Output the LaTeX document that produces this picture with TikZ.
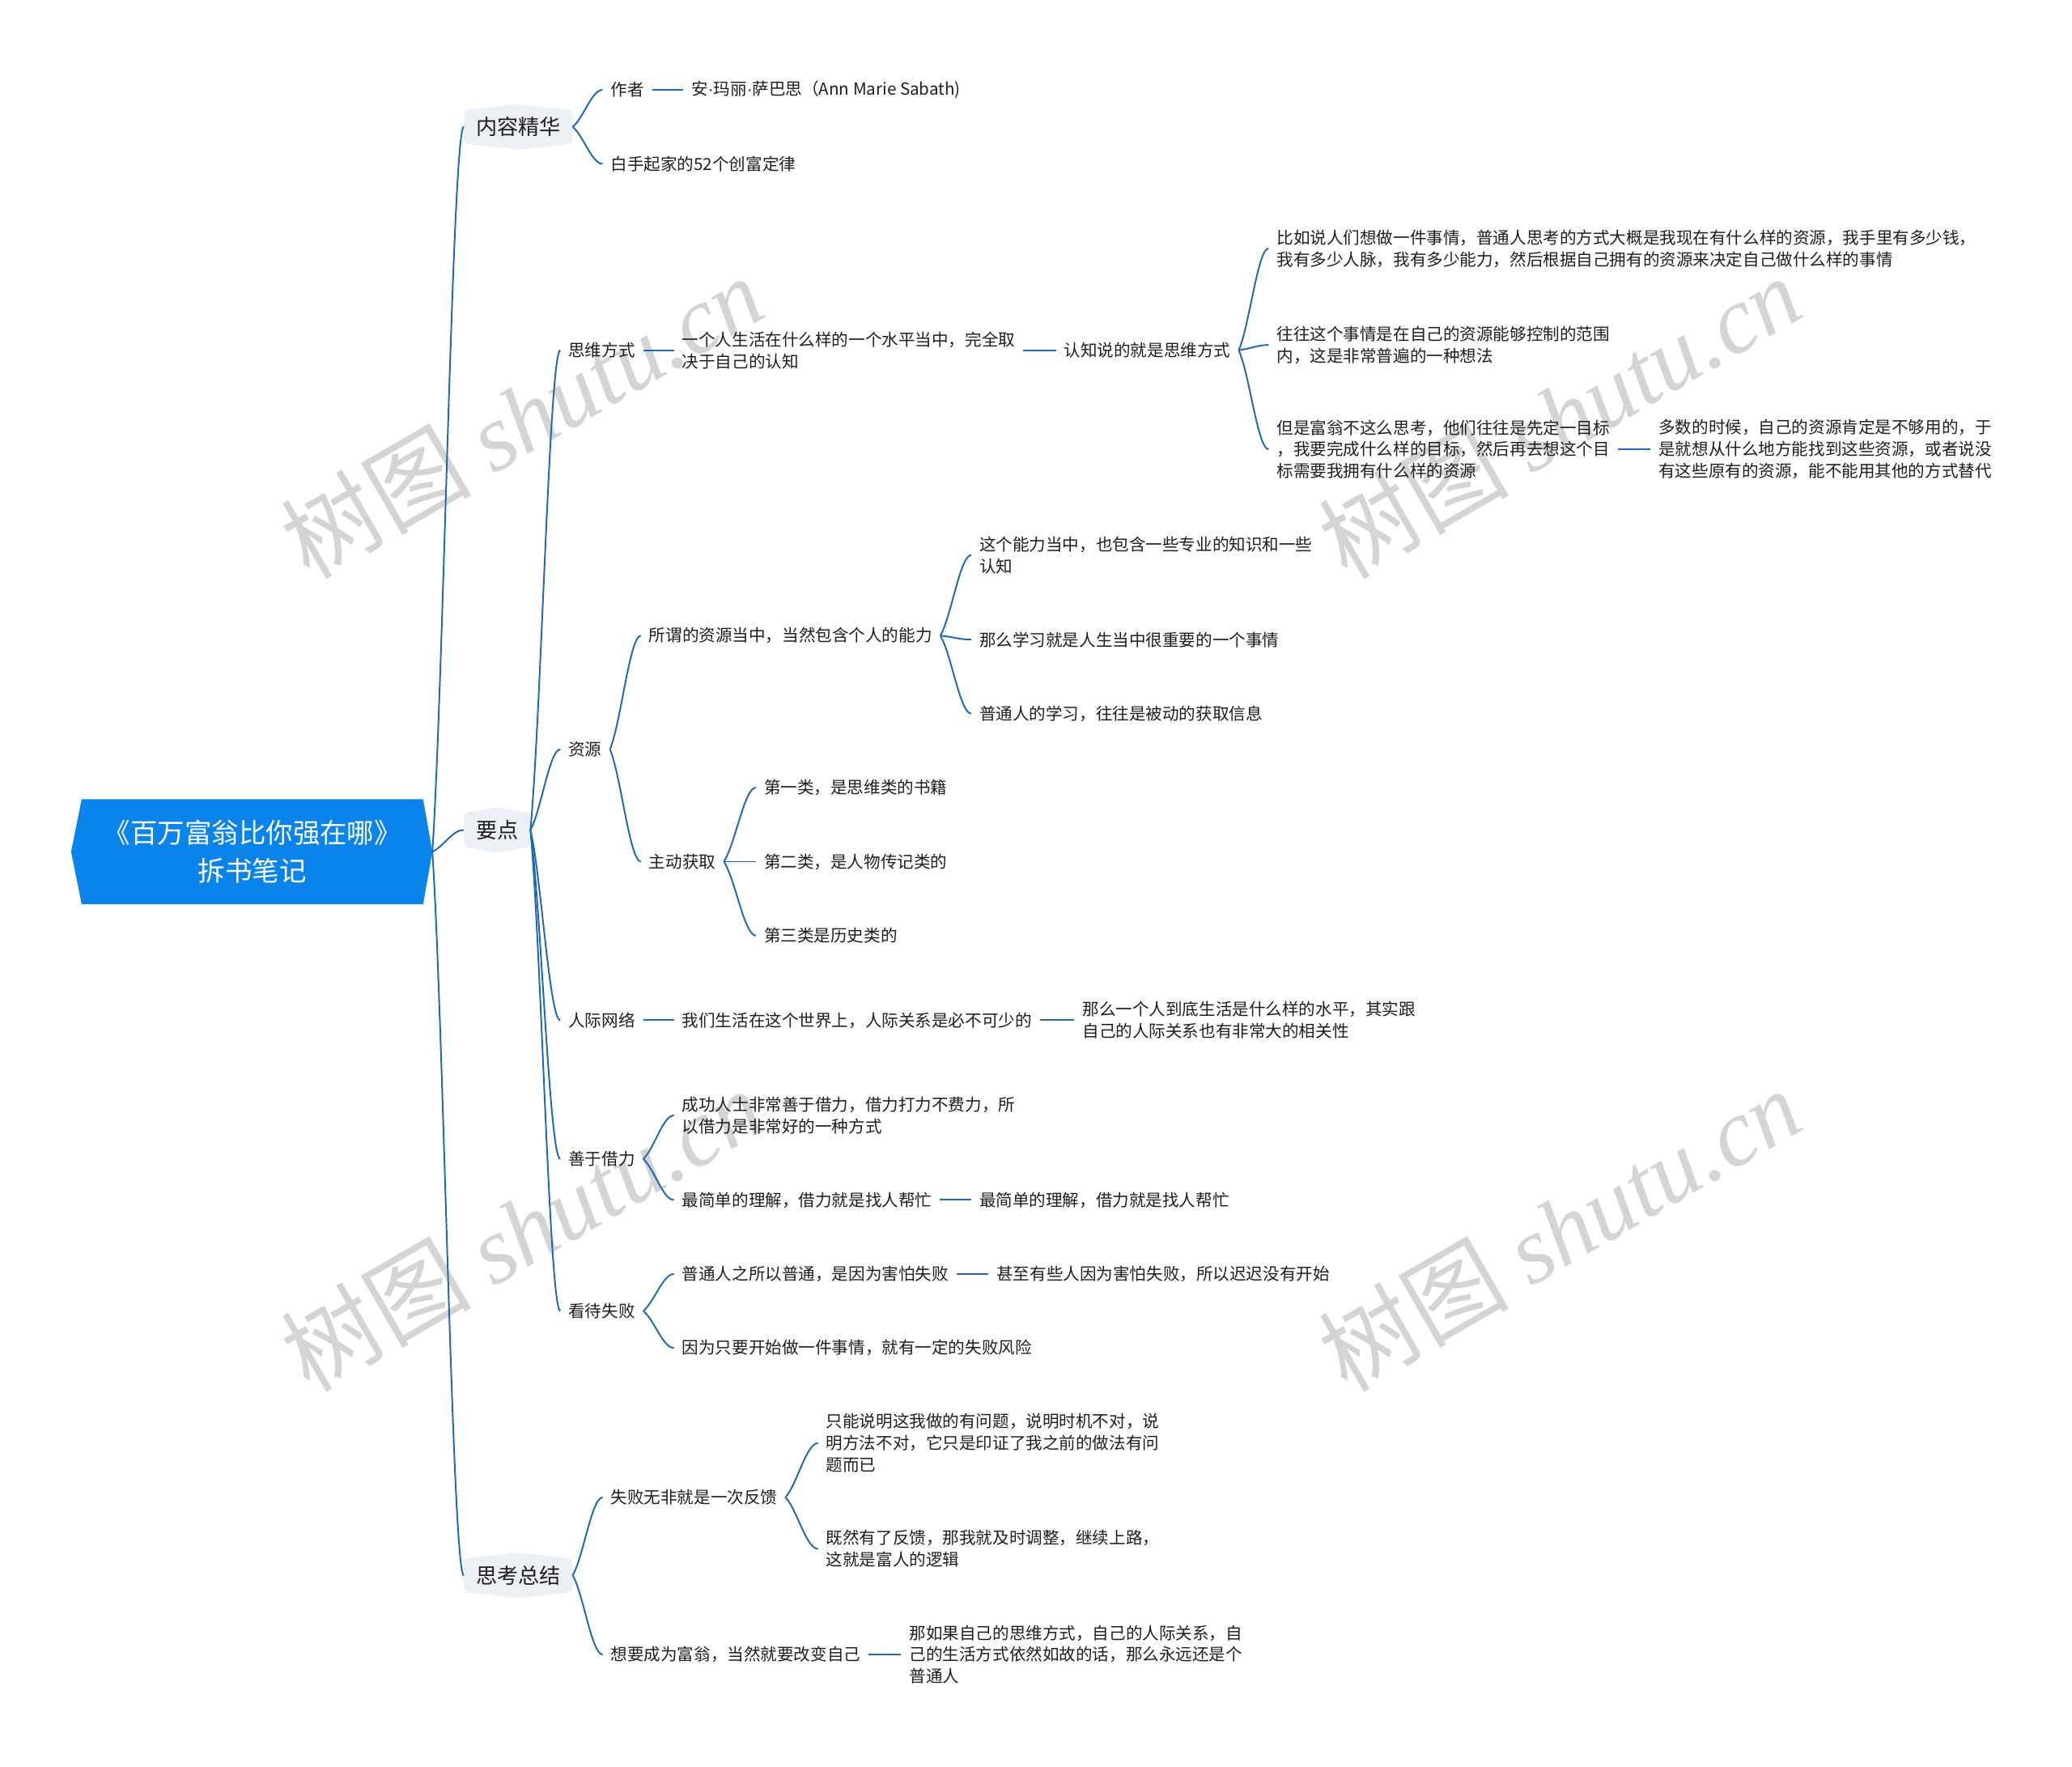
\documentclass[tikz,border=0pt]{standalone}
\usepackage{fontspec}
\setmainfont{Noto Sans CJK SC}
\newfontfamily\wmserif{Liberation Serif}
\newfontfamily\latinsans{Liberation Sans}
\usetikzlibrary{calc,backgrounds}
\definecolor{linkblue}{RGB}{30,104,184}
\definecolor{rootblue}{RGB}{10,132,234}
\definecolor{bubfill}{RGB}{236,240,244}
\definecolor{txt}{RGB}{30,30,30}
\definecolor{wmgray}{RGB}{212,212,212}
\newcommand\mmcurve[2]{\draw[conn] let \p1=(#1), \p2=(#2) in (\p1) .. controls ({\x1+0.36*(\x2-\x1)},{\y1+0.24*(\y2-\y1)}) and ({\x1+0.64*(\x2-\x1)},\y2) .. (\p2);}
\newcommand\mmbubble[1]{\begin{scope}[on background layer]\fill[bubfill,rounded corners=3pt] ([yshift=-4.5pt]#1.north west) -- (#1.north) -- ([yshift=-4.5pt]#1.north east) -- ([yshift=4.5pt]#1.south east) -- (#1.south) -- ([yshift=4.5pt]#1.south west) -- cycle;\end{scope}}
\newcommand\mmdot{{\latinsans ·}}
\begin{document}
\begin{tikzpicture}[x=1pt,y=1pt,
  conn/.style={draw=linkblue,line width=1.2pt},
  leaf/.style={anchor=west,align=left,inner xsep=6pt,inner ysep=2pt,text=txt,font=\fontsize{12.6}{16.5}\selectfont},
  bub/.style={anchor=west,inner xsep=9pt,minimum height=34pt,text=txt,font=\fontsize{16}{20}\selectfont},
  rootnode/.style={align=center,minimum width=258pt,minimum height=79pt,inner sep=0pt,text=white,font=\fontsize{20.5}{29}\selectfont},
  wm/.style={text=wmgray,font=\fontsize{72}{80}\selectfont,rotate=30}
]
\useasboundingbox (0,0) rectangle (1568,-1337);
\begin{scope}[on background layer]
\fill[white] (0,0) rectangle (1568,-1337);
\node[wm] (w1) at (395,-315) {树图 {\wmserif\itshape shutu.cn}};
\node[wm] (w2) at (1180,-315) {树图 {\wmserif\itshape shutu.cn}};
\node[wm] (w3) at (395,-930) {树图 {\wmserif\itshape shutu.cn}};
\node[wm] (w4) at (1180,-930) {树图 {\wmserif\itshape shutu.cn}};
\end{scope}

% root
\node[rootnode] (root) at (191,-644.5) {《百万富翁比你强在哪》\\拆书笔记};
\begin{scope}[on background layer]
\fill[rootblue] ([xshift=-8pt]root.west) -- (root.north west) -- (root.north east) -- ([xshift=7pt]root.east) -- (root.south east) -- (root.south west) -- cycle;
\end{scope}
\coordinate (rootR) at ([xshift=7pt]root.east);

% level 1
\node[bub] (n1) at (351,-96) {内容精华}; \mmbubble{n1}
\node[bub] (n2) at (351,-628) {要点}; \mmbubble{n2}
\node[bub] (n3) at (351,-1192) {思考总结}; \mmbubble{n3}

% 内容精华
\node[leaf] (a1) at (456,-68) {作者};
\node[leaf] (a2) at (517,-68) {安\mmdot 玛丽\mmdot 萨巴思（Ann Marie Sabath)};
\node[leaf] (a3) at (456,-124) {白手起家的52个创富定律};

% 要点
\node[leaf] (b1) at (424,-265) {思维方式};
\node[leaf] (b11) at (510,-265) {一个人生活在什么样的一个水平当中，完全取\\决于自己的认知};
\node[leaf] (b111) at (799,-265) {认知说的就是思维方式};
\node[leaf] (b1111) at (960,-188) {比如说人们想做一件事情，普通人思考的方式大概是我现在有什么样的资源，我手里有多少钱，\\我有多少人脉，我有多少能力，然后根据自己拥有的资源来决定自己做什么样的事情};
\node[leaf] (b1112) at (960,-261) {往往这个事情是在自己的资源能够控制的范围\\内，这是非常普遍的一种想法};
\node[leaf] (b1113) at (960,-340) {但是富翁不这么思考，他们往往是先定一目标\\，我要完成什么样的目标，然后再去想这个目\\标需要我拥有什么样的资源};
\node[leaf] (b11131) at (1249,-340) {多数的时候，自己的资源肯定是不够用的，于\\是就想从什么地方能找到这些资源，或者说没\\有这些原有的资源，能不能用其他的方式替代};

\node[leaf] (b2) at (424,-567) {资源};
\node[leaf] (b21) at (485,-481) {所谓的资源当中，当然包含个人的能力};
\node[leaf] (b211) at (735,-420) {这个能力当中，也包含一些专业的知识和一些\\认知};
\node[leaf] (b212) at (735,-484) {那么学习就是人生当中很重要的一个事情};
\node[leaf] (b213) at (735,-540) {普通人的学习，往往是被动的获取信息};
\node[leaf] (b22) at (485,-652) {主动获取};
\node[leaf] (b221) at (572,-596) {第一类，是思维类的书籍};
\node[leaf] (b222) at (572,-652) {第二类，是人物传记类的};
\node[leaf] (b223) at (572,-708) {第三类是历史类的};

\node[leaf] (b3) at (424,-772) {人际网络};
\node[leaf] (b31) at (510,-772) {我们生活在这个世界上，人际关系是必不可少的};
\node[leaf] (b311) at (813,-772) {那么一个人到底生活是什么样的水平，其实跟\\自己的人际关系也有非常大的相关性};

\node[leaf] (b4) at (424,-877) {善于借力};
\node[leaf] (b41) at (510,-844) {成功人士非常善于借力，借力打力不费力，所\\以借力是非常好的一种方式};
\node[leaf] (b42) at (510,-908) {最简单的理解，借力就是找人帮忙};
\node[leaf] (b421) at (735,-908) {最简单的理解，借力就是找人帮忙};

\node[leaf] (b5) at (424,-992) {看待失败};
\node[leaf] (b51) at (510,-964) {普通人之所以普通，是因为害怕失败};
\node[leaf] (b511) at (748,-964) {甚至有些人因为害怕失败，所以迟迟没有开始};
\node[leaf] (b52) at (510,-1020) {因为只要开始做一件事情，就有一定的失败风险};

% 思考总结
\node[leaf] (c1) at (456,-1133) {失败无非就是一次反馈};
\node[leaf] (c11) at (619,-1092) {只能说明这我做的有问题，说明时机不对，说\\明方法不对，它只是印证了我之前的做法有问\\题而已};
\node[leaf] (c12) at (619,-1172) {既然有了反馈，那我就及时调整，继续上路，\\这就是富人的逻辑};
\node[leaf] (c2) at (456,-1252) {想要成为富翁，当然就要改变自己};
\node[leaf] (c21) at (682,-1252) {那如果自己的思维方式，自己的人际关系，自\\己的生活方式依然如故的话，那么永远还是个\\普通人};

% connectors
\mmcurve{rootR}{n1.west}
\mmcurve{rootR}{n2.west}
\mmcurve{rootR}{n3.west}

\mmcurve{n1.east}{a1.west}
\mmcurve{n1.east}{a3.west}
\draw[conn] (a1.east) -- (a2.west);

\mmcurve{n2.east}{b1.west}
\mmcurve{n2.east}{b2.west}
\mmcurve{n2.east}{b3.west}
\mmcurve{n2.east}{b4.west}
\mmcurve{n2.east}{b5.west}

\draw[conn] (b1.east) -- (b11.west);
\draw[conn] (b11.east) -- (b111.west);
\mmcurve{b111.east}{b1111.west}
\mmcurve{b111.east}{b1112.west}
\mmcurve{b111.east}{b1113.west}
\draw[conn] (b1113.east) -- (b11131.west);

\mmcurve{b2.east}{b21.west}
\mmcurve{b2.east}{b22.west}
\mmcurve{b21.east}{b211.west}
\mmcurve{b21.east}{b212.west}
\mmcurve{b21.east}{b213.west}
\mmcurve{b22.east}{b221.west}
\mmcurve{b22.east}{b222.west}
\mmcurve{b22.east}{b223.west}

\draw[conn] (b3.east) -- (b31.west);
\draw[conn] (b31.east) -- (b311.west);

\mmcurve{b4.east}{b41.west}
\mmcurve{b4.east}{b42.west}
\draw[conn] (b42.east) -- (b421.west);

\mmcurve{b5.east}{b51.west}
\mmcurve{b5.east}{b52.west}
\draw[conn] (b51.east) -- (b511.west);

\mmcurve{n3.east}{c1.west}
\mmcurve{n3.east}{c2.west}
\mmcurve{c1.east}{c11.west}
\mmcurve{c1.east}{c12.west}
\draw[conn] (c2.east) -- (c21.west);
\end{tikzpicture}
\end{document}
